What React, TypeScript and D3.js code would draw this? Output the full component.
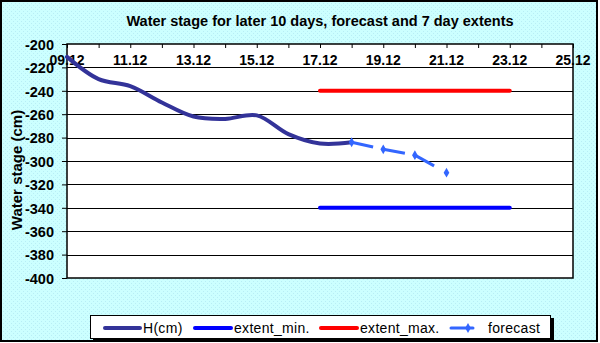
import React, { useEffect, useRef } from "react";
import * as d3 from "d3";

// dates are dd.mm, all in December
const hDates = ["09.12", "10.12", "11.12", "12.12", "13.12", "14.12", "15.12", "16.12", "17.12", "18.12"];
const hValues = [-211, -230, -236, -250, -262, -264, -261, -277, -285, -284];

const forecastDates = ["18.12", "19.12", "20.12", "21.12"];
const forecastValues = [-284, -290, -295, -310];

const extentDates = ["17.12", "23.12"];
const extentMin = [-340, -340];
const extentMax = [-240, -240];

const xTickLabels = ["09.12", "11.12", "13.12", "15.12", "17.12", "19.12", "21.12", "23.12", "25.12"];
const yTicks = [-200, -220, -240, -260, -280, -300, -320, -340, -360, -380, -400];

const day = (s: string) => parseInt(s.split(".")[0], 10);

export default function App() {
  const ref = useRef<SVGSVGElement>(null);

  useEffect(() => {
    const svg = d3.select(ref.current);
    svg.selectAll("*").remove();

    const W = 600, H = 343;
    const left = 67, right = 573, top = 44, bottom = 278;
    const font = "'Liberation Sans', Arial, sans-serif";

    const x = d3.scaleLinear().domain([9, 25]).range([left, right]);
    const y = d3.scaleLinear().domain([-400, -200]).range([bottom, top]);

    // background with dotted texture
    const defs = svg.append("defs");
    const pat = defs.append("pattern").attr("id", "dots").attr("width", 4).attr("height", 4)
      .attr("patternUnits", "userSpaceOnUse");
    pat.append("rect").attr("width", 4).attr("height", 4).attr("fill", "#ccffff");
    pat.append("rect").attr("x", 1).attr("y", 1).attr("width", 1).attr("height", 1).attr("fill", "#b8eef5");
    pat.append("rect").attr("x", 3).attr("y", 3).attr("width", 1).attr("height", 1).attr("fill", "#b8eef5");

    svg.append("rect").attr("x", 1).attr("y", 1).attr("width", W - 4).attr("height", H - 3)
      .attr("fill", "url(#dots)").attr("stroke", "#000").attr("stroke-width", 2);

    // plot area
    svg.append("rect").attr("x", left).attr("y", top).attr("width", right - left).attr("height", bottom - top)
      .attr("fill", "#fff").attr("stroke", "#000").attr("stroke-width", 1.5);

    // gridlines
    svg.append("g").selectAll("line").data(yTicks.slice(1, -1)).join("line")
      .attr("x1", left).attr("x2", right)
      .attr("y1", (d) => Math.round(y(d)) + 0.5).attr("y2", (d) => Math.round(y(d)) + 0.5)
      .attr("stroke", "#000").attr("stroke-width", 1.2);

    // y axis
    const yAxis = svg.append("g").attr("transform", `translate(${left},0)`)
      .call(d3.axisLeft(y).tickValues(yTicks).tickSize(5).tickSizeOuter(0).tickFormat(d3.format("d")));
    yAxis.select(".domain").remove();
    yAxis.selectAll("line").attr("stroke", "#000");
    yAxis.selectAll("text").attr("font-family", font).attr("font-size", 14.5).attr("font-weight", "bold")
      .attr("fill", "#000").attr("x", -13).attr("dy", "0.36em").text((d: any) => String(d).replace("−", "-"));

    // x axis at top, labels inside
    const xAxis = svg.append("g").attr("transform", `translate(0,${top})`)
      .call(d3.axisBottom(x).tickValues(d3.range(9, 26)).tickSize(4).tickSizeOuter(0).tickFormat(() => ""));
    xAxis.select(".domain").remove();
    xAxis.selectAll("line").attr("stroke", "#000");
    svg.append("g").selectAll("text").data(xTickLabels).join("text")
      .attr("x", (d) => x(day(d))).attr("y", top + 21)
      .attr("text-anchor", "middle").attr("font-family", font).attr("font-size", 14).attr("font-weight", "bold")
      .text((d) => d);

    const line = d3.line<[number, number]>().x((d) => x(d[0])).y((d) => y(d[1]));

    // extents
    const ext = (vals: number[]) => extentDates.map((d, i) => [day(d), vals[i]] as [number, number]);
    svg.append("path").attr("d", line(ext(extentMax))).attr("fill", "none")
      .attr("stroke", "#ff0000").attr("stroke-width", 4).attr("stroke-linecap", "round");
    svg.append("path").attr("d", line(ext(extentMin))).attr("fill", "none")
      .attr("stroke", "#0000ff").attr("stroke-width", 4).attr("stroke-linecap", "round");

    // H(cm) smoothed
    const hPts = hDates.map((d, i) => [day(d), hValues[i]] as [number, number]);
    const smooth = d3.line<[number, number]>().x((d) => x(d[0])).y((d) => y(d[1]))
      .curve(d3.curveCatmullRom.alpha(0.5));
    svg.append("path").attr("d", smooth(hPts)).attr("fill", "none")
      .attr("stroke", "#333399").attr("stroke-width", 4).attr("stroke-linecap", "round");

    // forecast: each segment dashed from its start point
    const fPts = forecastDates.map((d, i) => [day(d), forecastValues[i]] as [number, number]);
    svg.append("g").selectAll("path").data(d3.pairs(fPts)).join("path")
      .attr("d", (p) => line(p)).attr("fill", "none")
      .attr("stroke", "#3366ff").attr("stroke-width", 3).attr("stroke-dasharray", "22,100");
    svg.append("g").selectAll("path").data(fPts).join("path")
      .attr("transform", (d) => `translate(${x(d[0])},${y(d[1])})`)
      .attr("d", d3.symbol(d3.symbolDiamond, 28)).attr("fill", "#3366ff");

    // title
    svg.append("text").attr("x", 320).attr("y", 26).attr("text-anchor", "middle")
      .attr("font-family", font).attr("font-size", 14.5).attr("font-weight", "bold")
      .text("Water stage for later 10 days, forecast and 7 day extents");

    // y label
    svg.append("text").attr("transform", "translate(22,170) rotate(-90)").attr("text-anchor", "middle")
      .attr("font-family", font).attr("font-size", 15).attr("font-weight", "bold")
      .text("Water stage (cm)");

    // legend
    const lg = svg.append("g");
    lg.append("rect").attr("x", 93).attr("y", 318).attr("width", 461).attr("height", 24).attr("fill", "#000");
    lg.append("rect").attr("x", 90.5).attr("y", 315.5).attr("width", 460).attr("height", 23)
      .attr("fill", "#fff").attr("stroke", "#000");
    const items = [
      { name: "H(cm)", color: "#333399", x0: 105, x1: 140, tx: 143, dash: false },
      { name: "extent_min.", color: "#0000ff", x0: 195, x1: 231, tx: 234, dash: false },
      { name: "extent_max.", color: "#ff0000", x0: 321, x1: 357, tx: 360, dash: false },
      { name: "forecast", color: "#3366ff", x0: 451, x1: 473, tx: 488, dash: true },
    ];
    const ly = 328;
    items.forEach((it) => {
      lg.append("line").attr("x1", it.x0).attr("x2", it.x1).attr("y1", ly).attr("y2", ly)
        .attr("stroke", it.color).attr("stroke-width", it.dash ? 3 : 4).attr("stroke-linecap", "round");
      if (it.dash) {
        lg.append("path").attr("transform", `translate(468,${ly})`)
          .attr("d", d3.symbol(d3.symbolDiamond, 28)).attr("fill", it.color);
      }
      lg.append("text").attr("x", it.tx).attr("y", ly + 5).attr("font-family", font).attr("font-size", 14)
        .attr("letter-spacing", 0.3).text(it.name);
    });
  }, []);

  return (
    <svg ref={ref} width={600} height={343} style={{ position: "absolute", left: 0, top: 0 }} />
  );
}
